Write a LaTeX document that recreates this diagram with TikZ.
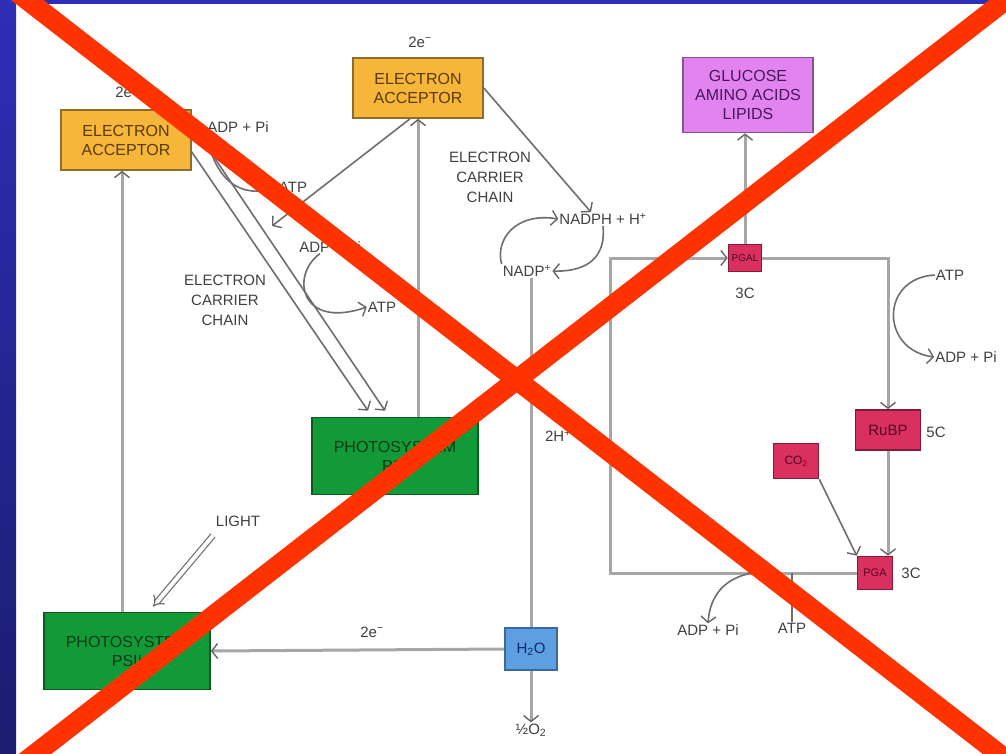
\documentclass[tikz,border=0pt]{standalone}
\usepackage{fontspec}
\setmainfont{Liberation Sans}
\usetikzlibrary{arrows.meta,calc}
\definecolor{frametop}{HTML}{2E2EB6}
\definecolor{framebot}{HTML}{1C1C70}
\definecolor{accfill}{HTML}{F6B63A}
\definecolor{accdraw}{HTML}{8E6C2C}
\definecolor{acctext}{HTML}{5A3A05}
\definecolor{glufill}{HTML}{E184F0}
\definecolor{gludraw}{HTML}{8A558E}
\definecolor{glutext}{HTML}{4A165C}
\definecolor{psfill}{HTML}{129A38}
\definecolor{psdraw}{HTML}{0B5A22}
\definecolor{pstext}{HTML}{053A12}
\definecolor{redfill}{HTML}{D93060}
\definecolor{reddraw}{HTML}{86183A}
\definecolor{redtext}{HTML}{520820}
\definecolor{h2ofill}{HTML}{5E9FE2}
\definecolor{h2odraw}{HTML}{3A68A0}
\definecolor{h2otext}{HTML}{0A2A6A}
\definecolor{lbltext}{HTML}{404040}
\definecolor{pipegray}{HTML}{A6A6A6}
\definecolor{finegray}{HTML}{6E6E6E}
\definecolor{tipgray}{HTML}{666666}
\definecolor{xred}{HTML}{FF3300}
\tikzset{
  boxbase/.style={draw, line width=1.6pt, align=center, inner sep=2pt, font=\fontsize{16}{19}\selectfont},
  accbox/.style={boxbase, fill=accfill, draw=accdraw, text=acctext, minimum width=130pt, minimum height=60pt},
  glubox/.style={boxbase, fill=glufill, draw=gludraw, text=glutext, minimum width=130pt, minimum height=75pt},
  psbox/.style={boxbase, fill=psfill, draw=psdraw, text=pstext, minimum width=166pt, minimum height=77pt},
  redbox/.style={boxbase, fill=redfill, draw=reddraw, text=redtext},
  h2obox/.style={boxbase, fill=h2ofill, draw=h2odraw, text=h2otext, minimum width=52pt, minimum height=42pt, font=\fontsize{15}{18}\selectfont},
  lbl/.style={text=lbltext, align=center, inner sep=1pt, font=\fontsize{15}{20}\selectfont},
  pipe/.style={draw=pipegray, line width=3pt},
  fine/.style={draw=finegray, line width=1.6pt},
  >={Straight Barb[length=6pt,width=15pt,line width=1.4pt,color=tipgray]},
}
\begin{document}
\begin{tikzpicture}[x=1pt,y=-1pt]
\useasboundingbox (0,0) rectangle (1006,753);
\fill[white] (0,0) rectangle (1006,753);
\shade[top color=frametop, bottom color=framebot] (0,0) rectangle (16,753);
\fill[frametop] (0,0) rectangle (1006,4);

% boxes
\node[accbox] (acc1) at (126,140) {ELECTRON\\ACCEPTOR};
\node[accbox] (acc2) at (418,88) {ELECTRON\\ACCEPTOR};
\node[glubox] (gluc) at (748,95) {GLUCOSE\\AMINO ACIDS\\LIPIDS};
\node[psbox] (ps1) at (395,456) {PHOTOSYSTEM\\PSI};
\node[psbox] (ps2) at (127,651) {PHOTOSYSTEM\\PSII};
\node[h2obox] (h2o) at (531,649) {H\textsubscript{2}O};
\node[redbox, minimum width=33pt, minimum height=27pt, font=\fontsize{10}{12}\selectfont] (pgal) at (745,258) {PGAL};
\node[redbox, minimum width=65pt, minimum height=40pt, font=\fontsize{15}{18}\selectfont] (rubp) at (888,430) {RuBP};
\node[redbox, minimum width=45pt, minimum height=35pt, font=\fontsize{12}{14}\selectfont] (co2) at (796,461) {CO\textsubscript{2}};
\node[redbox, minimum width=35pt, minimum height=33pt, font=\fontsize{11}{13}\selectfont] (pga) at (875,573) {PGA};

% labels
\node[lbl] (e1) at (127,92) {2e\textsuperscript{−}};
\node[lbl] (e2) at (420,42) {2e\textsuperscript{−}};
\node[lbl] (adp1) at (238,127) {ADP + Pi};
\node[lbl] (atp1) at (293,187) {ATP};
\node[lbl] (adp2) at (330,247) {ADP + Pi};
\node[lbl] (atp2) at (382,307) {ATP};
\node[lbl] (ecc1) at (225,300) {ELECTRON\\CARRIER\\CHAIN};
\node[lbl] (ecc2) at (490,177) {ELECTRON\\CARRIER\\CHAIN};
\node[lbl] (nadph) at (603,219) {NADPH + H\textsuperscript{+}};
\node[lbl] (nadp) at (527,271) {NADP\textsuperscript{+}};
\node[lbl] (light) at (238,521) {LIGHT};
\node[lbl] (e3) at (372,632) {2e\textsuperscript{−}};
\node[lbl] (hh) at (558,436) {2H\textsuperscript{+}};
\node[lbl] (o2) at (531,730) {½O\textsubscript{2}};
\node[lbl] (c3a) at (745,293) {3C};
\node[lbl] (c5) at (936,432) {5C};
\node[lbl] (c3b) at (911,573) {3C};
\node[lbl] (atp3) at (950,275) {ATP};
\node[lbl] (adp3) at (966,357) {ADP + Pi};
\node[lbl] (adp4) at (708,630) {ADP + Pi};
\node[lbl] (atp4) at (792,628) {ATP};

\coordinate (bl) at (610,573);
\coordinate (tl) at (610,258);
\coordinate (tr) at (888,258);
\coordinate (cyc) at (272,226);
\coordinate (bstart) at (752,573);

% light-reaction connectors
\draw[pipe,->] ($(ps2.north)+(-5,0)$) -- ($(acc1.south)+(-4,0)$);
\draw[pipe,->] (ps1.north -| acc2.south) -- (acc2.south);
\draw[pipe,->] (h2o.west) -- (ps2.east);
\draw[pipe,->] (h2o.south) -- (o2.north);
\draw[pipe] (h2o.north |- nadp.south) -- (h2o.north);
\draw[fine,->] ($(acc1.east)+(0,12)$) -- ($(ps1.north)+(-27,-6)$);
\draw[fine,->] ($(acc1.east)+(12,2)$) -- ($(ps1.north)+(-10,-6)$);
\draw[fine,->] ($(acc2.south)+(-8,0)$) -- (cyc);
\draw[fine,->] (acc2.east) -- ($(nadph.north)+(-12,0)$);
\draw[fine,->] (adp1.south west) .. controls (215,180) and (240,200) .. (atp1.west);
\draw[fine,->] ($(adp2.south)+(-10,0)$) .. controls (290,275) and (300,330) .. (atp2.west);
\draw[fine,->] (nadp.north west) .. controls (495,240) and (515,212) .. (nadph.west);
\draw[fine,->] (nadph.south) .. controls (606,255) and (590,272) .. (nadp.east);
\draw[draw=finegray, line width=1.2pt, double=white, double distance=4pt, -{Implies}] ($(light.south)+(-25,8)$) -- ($(ps2.north)+(26,-5)$);

% Calvin cycle
\draw[pipe,->] (pga.west) -- (bl) -- (tl) -- (pgal.west);
\draw[pipe,->] (pgal.east) -- (tr) -- (rubp.north);
\draw[pipe,->] (rubp.south) -- (rubp.south |- pga.north);
\draw[fine,->] (co2.south east) -- (pga.north west);
\draw[pipe,->] (pgal.north) -- (pgal.north |- gluc.south);
\draw[fine,->] (atp3.west) .. controls (880,278) and (880,350) .. (adp3.west);
\draw[fine,->] (bstart) .. controls (725,578) and (710,595) .. (adp4.north);
\draw[fine] (atp4.north) -- (atp4.north |- bl);

% red cross
\begin{scope}
\clip (0,0) rectangle (1006,753);
\draw[xred, line width=20pt] (4,-18) -- (1030,778);
\draw[xred, line width=20pt] (1034,-22) -- (8,775);
\end{scope}
\end{tikzpicture}
\end{document}
